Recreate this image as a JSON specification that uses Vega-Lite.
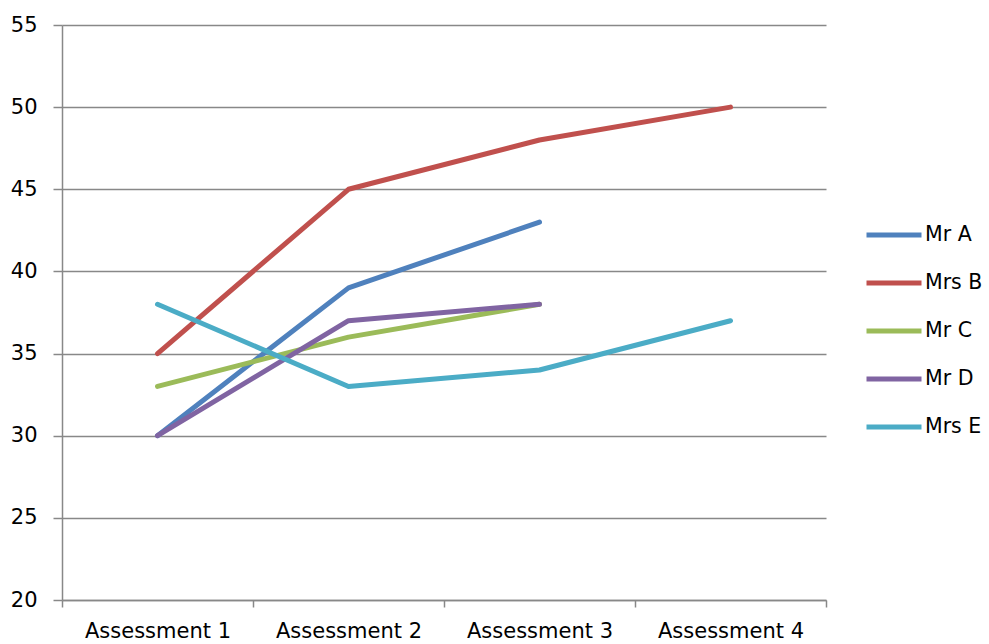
{
  "$schema": "https://vega.github.io/schema/vega-lite/v6.json",
  "width": 764,
  "height": 575,
  "autosize": {"type": "none"},
  "padding": {"left": 62, "top": 25, "right": 163, "bottom": 44},
  "background": "white",
  "config": {
    "view": {"stroke": null},
    "font": "DejaVu Sans",
    "axis": {"labelFont": "DejaVu Sans", "labelColor": "#000000", "labelFontSize": 21, "domainColor": "#888888", "tickColor": "#888888", "gridColor": "#888888", "domainWidth": 1.5, "tickWidth": 1.5, "gridWidth": 1.5}
  },
  "data": {
    "values": [
      {"teacher": "Mr A", "assessment": "Assessment 1", "score": 30},
      {"teacher": "Mr A", "assessment": "Assessment 2", "score": 39},
      {"teacher": "Mr A", "assessment": "Assessment 3", "score": 43},
      {"teacher": "Mrs B", "assessment": "Assessment 1", "score": 35},
      {"teacher": "Mrs B", "assessment": "Assessment 2", "score": 45},
      {"teacher": "Mrs B", "assessment": "Assessment 3", "score": 48},
      {"teacher": "Mrs B", "assessment": "Assessment 4", "score": 50},
      {"teacher": "Mr C", "assessment": "Assessment 1", "score": 33},
      {"teacher": "Mr C", "assessment": "Assessment 2", "score": 36},
      {"teacher": "Mr C", "assessment": "Assessment 3", "score": 38},
      {"teacher": "Mr D", "assessment": "Assessment 1", "score": 30},
      {"teacher": "Mr D", "assessment": "Assessment 2", "score": 37},
      {"teacher": "Mr D", "assessment": "Assessment 3", "score": 38},
      {"teacher": "Mrs E", "assessment": "Assessment 1", "score": 38},
      {"teacher": "Mrs E", "assessment": "Assessment 2", "score": 33},
      {"teacher": "Mrs E", "assessment": "Assessment 3", "score": 34},
      {"teacher": "Mrs E", "assessment": "Assessment 4", "score": 37}
    ]
  },
  "mark": {"type": "line", "strokeWidth": 5, "strokeCap": "round", "strokeJoin": "round"},
  "encoding": {
    "x": {
      "field": "assessment", "type": "nominal", "title": null,
      "scale": {"type": "band", "paddingInner": 0, "paddingOuter": 0},
      "axis": {"labelAngle": 0, "tickBand": "extent", "tickSize": 7, "labelPadding": 13, "grid": false}
    },
    "y": {
      "field": "score", "type": "quantitative", "title": null,
      "scale": {"domain": [20, 55], "nice": false, "zero": false},
      "axis": {"values": [20, 25, 30, 35, 40, 45, 50, 55], "tickSize": 9, "labelPadding": 16, "grid": true}
    },
    "color": {
      "field": "teacher", "type": "nominal", "title": null,
      "scale": {"domain": ["Mr A", "Mrs B", "Mr C", "Mr D", "Mrs E"], "range": ["#4F81BD", "#C0504D", "#9BBB59", "#8064A2", "#4BACC6"]},
      "legend": {"orient": "none", "legendX": 802, "legendY": 180, "symbolType": "stroke", "symbolSize": 3025, "symbolStrokeWidth": 5, "labelFontSize": 20.5, "labelFont": "DejaVu Sans", "labelColor": "#000000", "rowPadding": 7, "labelOffset": 1}
    }
  }
}
